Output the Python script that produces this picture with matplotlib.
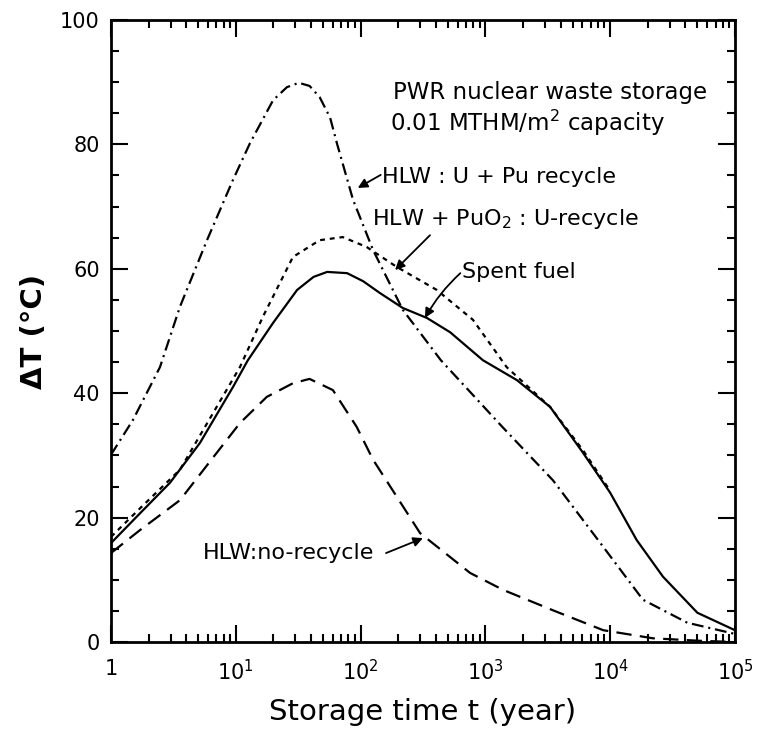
import numpy as np
import matplotlib
matplotlib.use("Agg")
import matplotlib.pyplot as plt

plt.rcParams['font.family'] = ['DejaVu Sans']
plt.rcParams['mathtext.default'] = 'regular'
plt.rcParams['lines.scale_dashes'] = False

# HLW: U + Pu recycle (dash-dot)
t_upu = [1, 1.5, 2.47, 3.57, 5.88, 9.5, 13.0, 19.9, 25.7, 32, 39, 47, 57, 65, 87,
         126, 218, 440, 1380, 3480, 8800, 18300, 41500, 100000]
dT_upu = [30.1, 35.7, 44.2, 53.9, 64.6, 74.3, 80.2, 87.1, 89.2, 89.9, 89.4, 87.6,
          84.3, 80.0, 71.1, 63.0, 53.4, 45.3, 34.5, 26.0, 15.3, 6.8, 3.1, 1.3]

# HLW + PuO2: U-recycle (short dashes)
t_puo2 = [1, 1.71, 3.57, 10.8, 16.5, 28.7, 47, 72, 112, 195, 408, 795, 1480, 3300,
          6070, 10000]
dT_puo2 = [16.9, 21.5, 27.7, 44.2, 52.3, 61.9, 64.6, 65.1, 63.5, 60.3, 56.6, 51.8,
           44.2, 37.8, 30.8, 24.3]

# spent fuel (solid)
t_sf = [1, 1.71, 2.97, 5.16, 9.5, 12.5, 19.9, 31, 42, 54, 78, 105, 143, 218, 340,
        522, 956, 1790, 3300, 6070, 10000, 16300, 26500, 50000, 100000]
dT_sf = [15.9, 20.7, 25.6, 32.0, 41.0, 45.3, 51.3, 56.6, 58.7, 59.5, 59.3, 58.0,
         56.1, 53.7, 52.1, 49.8, 45.3, 42.1, 37.8, 30.4, 24.0, 16.4, 10.5, 4.7, 1.9]

# HLW: no-recycle (long dashes)
t_nr = [1, 1.71, 3.57, 6.6, 10.8, 17.7, 28.7, 39, 60, 93, 126, 300, 755, 1380, 3480,
        8800, 22000, 52000, 100000]
dT_nr = [14.3, 18.0, 22.8, 29.7, 35.2, 39.4, 41.6, 42.3, 40.5, 34.6, 29.3, 17.5,
         11.1, 8.4, 5.1, 1.9, 0.6, 0.2, 0.0]

xticks = [1, 10, 100, 1000, 10000, 100000]
xticklabels = ['1', '$10^1$', '$10^2$', '$10^3$', '$10^4$', '$10^5$']
yticks = [0, 20, 40, 60, 80, 100]

fig = plt.figure(figsize=(7.57, 7.35), dpi=100)
ax = fig.add_axes([0.1466, 0.1265, 0.8243, 0.8463])

lw = 1.6
ax.plot(t_upu, dT_upu, color='k', lw=lw, dashes=(8.5, 3.5, 1.5, 3.5))
ax.plot(t_puo2, dT_puo2, color='k', lw=lw, dashes=(3.5, 3.5))
ax.plot(t_sf, dT_sf, color='k', lw=lw)
ax.plot(t_nr, dT_nr, color='k', lw=lw, dashes=(11, 6))

ax.set_xscale('log')
ax.set_xlim(1, 1e5)
ax.set_ylim(0, 100)
ax.set_xticks(xticks)
ax.set_xticklabels(xticklabels)
ax.set_yticks(yticks)
ax.set_yticks(np.arange(0, 101, 5), minor=True)

for s in ax.spines.values():
    s.set_linewidth(2.0)
ax.tick_params(which='both', direction='in', top=True, right=True, width=1.5,
               labelsize=15)
ax.tick_params(which='major', length=12)
ax.tick_params(which='minor', length=6)
ax.tick_params(axis='x', pad=12)
ax.tick_params(axis='y', pad=8)

ax.set_xlabel('Storage time t (year)', fontsize=21, labelpad=10)
ax.set_ylabel('ΔT (°C)', fontsize=21, fontweight='bold', labelpad=9)

fs = 16
ax.text(182, 88.4, 'PWR nuclear waste storage', fontsize=16.5, va='center', ha='left')
ax.text(172, 83.4, '0.01 MTHM/m$^2$ capacity', fontsize=16.5, va='center', ha='left')
ax.text(148, 74.8, 'HLW : U + Pu recycle', fontsize=fs, va='center', ha='left')
ax.text(124, 68.0, 'HLW + PuO$_2$ : U-recycle', fontsize=fs, va='center', ha='left')
ax.text(650, 59.5, 'Spent fuel', fontsize=fs, va='center', ha='left')
ax.text(5.5, 14.3, 'HLW:no-recycle', fontsize=fs, va='center', ha='left')

arrow = dict(arrowstyle='-|>', color='k', lw=1.3, mutation_scale=14,
             shrinkA=0, shrinkB=0)
ax.annotate('', xy=(95, 73.0), xytext=(145, 75.1), arrowprops=arrow)
ax.annotate('', xy=(189, 59.8), xytext=(360, 65.4), arrowprops=arrow)
ax.annotate('', xy=(328, 52.1), xytext=(630, 59.3),
            arrowprops=dict(arrow, connectionstyle='arc3,rad=0.08'))
ax.annotate('', xy=(316, 16.7), xytext=(160, 14.3), arrowprops=arrow)

fig.savefig('out.png', dpi=100)
